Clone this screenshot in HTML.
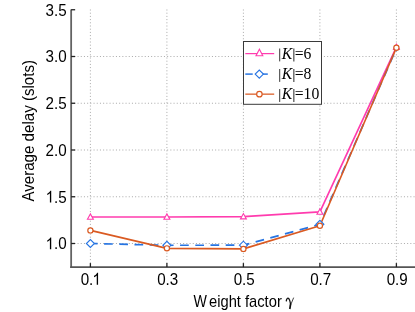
<!DOCTYPE html><html><head><meta charset="utf-8"><style>html,body{margin:0;padding:0;background:#fff}svg{display:block;will-change:transform}text{font-family:"Liberation Sans",sans-serif;fill:#000}.s{font-family:"Liberation Serif",serif}</style></head><body>
<svg width="415" height="312" viewBox="0 0 415 312">
<rect width="415" height="312" fill="#fff"/>
<g stroke="#a0a0a0" stroke-width="0.9" stroke-dasharray="1 2.2" fill="none"><line x1="90.40" y1="9.5" x2="90.40" y2="267.1"/><line x1="166.90" y1="9.5" x2="166.90" y2="267.1"/><line x1="243.40" y1="9.5" x2="243.40" y2="267.1"/><line x1="319.90" y1="9.5" x2="319.90" y2="267.1"/><line x1="396.40" y1="9.5" x2="396.40" y2="267.1"/><line x1="71.15" y1="243.50" x2="415" y2="243.50"/><line x1="71.15" y1="196.75" x2="415" y2="196.75"/><line x1="71.15" y1="150.00" x2="415" y2="150.00"/><line x1="71.15" y1="103.25" x2="415" y2="103.25"/><line x1="71.15" y1="56.50" x2="415" y2="56.50"/></g>
<g stroke="#555" stroke-width="1.8" fill="none">
<line x1="71.15" y1="9.5" x2="71.15" y2="268.0" stroke="#636363"/>
<line x1="70.25" y1="267.1" x2="415" y2="267.1"/>
</g>
<g stroke="#222" stroke-width="1.3" fill="none">
<line x1="90.40" y1="267.1" x2="90.40" y2="263.1"/>
<line x1="166.90" y1="267.1" x2="166.90" y2="263.1"/>
<line x1="243.40" y1="267.1" x2="243.40" y2="263.1"/>
<line x1="319.90" y1="267.1" x2="319.90" y2="263.1"/>
<line x1="396.40" y1="267.1" x2="396.40" y2="263.1"/>
<line x1="71.15" y1="243.50" x2="75.15" y2="243.50"/>
<line x1="71.15" y1="196.75" x2="75.15" y2="196.75"/>
<line x1="71.15" y1="150.00" x2="75.15" y2="150.00"/>
<line x1="71.15" y1="103.25" x2="75.15" y2="103.25"/>
<line x1="71.15" y1="56.50" x2="75.15" y2="56.50"/>
<line x1="71.15" y1="9.75" x2="75.15" y2="9.75"/>
</g>
<text transform="translate(80.64,284.65) scale(1,1.12)" font-size="15.2">0.</text><path transform="translate(92.41,284.65) scale(0.007422,-0.008022)" d="M763 0H583V1147Q518 1085 412.5 1023Q307 961 223 930V1104Q374 1175 487 1276Q600 1377 647 1472H763Z" fill="#000"/>
<text transform="translate(167.70,284.65) scale(1,1.12)" font-size="15.2" text-anchor="middle">0.3</text>
<text transform="translate(244.20,284.65) scale(1,1.12)" font-size="15.2" text-anchor="middle">0.5</text>
<text transform="translate(320.70,284.65) scale(1,1.12)" font-size="15.2" text-anchor="middle">0.7</text>
<text transform="translate(397.20,284.65) scale(1,1.12)" font-size="15.2" text-anchor="middle">0.9</text>
<path transform="translate(45.57,249.30) scale(0.007422,-0.008022)" d="M763 0H583V1147Q518 1085 412.5 1023Q307 961 223 930V1104Q374 1175 487 1276Q600 1377 647 1472H763Z" fill="#000"/><text transform="translate(66.7,249.30) scale(1,1.12)" font-size="15.2" text-anchor="end">.0</text>
<path transform="translate(45.57,202.55) scale(0.007422,-0.008022)" d="M763 0H583V1147Q518 1085 412.5 1023Q307 961 223 930V1104Q374 1175 487 1276Q600 1377 647 1472H763Z" fill="#000"/><text transform="translate(66.7,202.55) scale(1,1.12)" font-size="15.2" text-anchor="end">.5</text>
<text transform="translate(66.7,155.80) scale(1,1.12)" font-size="15.2" text-anchor="end">2.0</text>
<text transform="translate(66.7,109.05) scale(1,1.12)" font-size="15.2" text-anchor="end">2.5</text>
<text transform="translate(66.7,62.30) scale(1,1.12)" font-size="15.2" text-anchor="end">3.0</text>
<text transform="translate(66.7,15.55) scale(1,1.12)" font-size="15.2" text-anchor="end">3.5</text>
<g font-size="15.2"><text transform="translate(193.4,306.6) scale(1,1.06)" textLength="13.4" lengthAdjust="spacingAndGlyphs">W</text><text transform="translate(209.0,306.6) scale(1,1.06)" textLength="72.8" lengthAdjust="spacingAndGlyphs">eight factor</text></g><g fill="none" stroke="#111" stroke-linecap="round"><path d="M286.3 300.8C286.6 298.7 287.6 297.9 288.4 298.3C289.4 299 290.2 302 290.6 304.6" stroke-width="1.3"/><path d="M293.5 298L290.4 305.6" stroke-width="0.8"/><path d="M290.5 304.5L289.8 309" stroke-width="1.7" stroke-linecap="butt"/></g>
<text transform="translate(34.2,130.8) rotate(-90) scale(1,1.03)" font-size="15.2" text-anchor="middle" textLength="141.6" lengthAdjust="spacingAndGlyphs">Average delay (slots)</text>
<polyline points="90.40,216.99 166.90,216.99 243.40,216.57 319.90,211.90 396.40,47.06" fill="none" stroke="#ff3cae" stroke-width="1.65" stroke-linejoin="round"/>
<polyline points="90.40,243.50 166.90,245.28 243.40,245.18 319.90,224.33 396.40,48.27" fill="none" stroke="#2674e2" stroke-width="1.7" stroke-dasharray="8.7 6.5" stroke-dashoffset="1.5" stroke-linejoin="round"/>
<polyline points="90.40,230.41 166.90,248.36 243.40,248.88 319.90,225.74 396.40,47.71" fill="none" stroke="#da5a22" stroke-width="1.65" stroke-linejoin="round"/>
<path d="M86.40 243.50L90.40 247.50L94.40 243.50L90.40 239.50Z" fill="#fff" stroke="#2674e2" stroke-width="1.1"/>
<path d="M162.90 245.28L166.90 249.28L170.90 245.28L166.90 241.28Z" fill="#fff" stroke="#2674e2" stroke-width="1.1"/>
<path d="M239.40 245.18L243.40 249.18L247.40 245.18L243.40 241.18Z" fill="#fff" stroke="#2674e2" stroke-width="1.1"/>
<path d="M315.90 224.33L319.90 228.33L323.90 224.33L319.90 220.33Z" fill="#fff" stroke="#2674e2" stroke-width="1.1"/>
<path d="M394.00 48.27L396.40 50.67L398.80 48.27L396.40 45.87Z" fill="#fff" stroke="#2674e2" stroke-width="1.1"/>
<path d="M87.45 219.29L93.35 219.29L90.40 213.99Z" fill="#fff" stroke="#ff3cae" stroke-width="1.1"/>
<path d="M163.95 219.29L169.85 219.29L166.90 213.99Z" fill="#fff" stroke="#ff3cae" stroke-width="1.1"/>
<path d="M240.45 218.87L246.35 218.87L243.40 213.57Z" fill="#fff" stroke="#ff3cae" stroke-width="1.1"/>
<path d="M316.95 214.20L322.85 214.20L319.90 208.90Z" fill="#fff" stroke="#ff3cae" stroke-width="1.1"/>
<path d="M393.45 49.36L399.35 49.36L396.40 44.06Z" fill="#fff" stroke="#ff3cae" stroke-width="1.1"/>
<circle cx="90.40" cy="230.41" r="2.6" fill="#fff" stroke="#da5a22" stroke-width="1.2"/>
<circle cx="166.90" cy="248.36" r="2.6" fill="#fff" stroke="#da5a22" stroke-width="1.2"/>
<circle cx="243.40" cy="248.88" r="2.6" fill="#fff" stroke="#da5a22" stroke-width="1.2"/>
<circle cx="319.90" cy="225.74" r="2.6" fill="#fff" stroke="#da5a22" stroke-width="1.2"/>
<circle cx="396.40" cy="47.71" r="2.6" fill="#fff" stroke="#da5a22" stroke-width="1.2"/>
<rect x="243.5" y="41.5" width="78" height="62.8" fill="#fff" stroke="#3a3a3a" stroke-width="1"/>
<line x1="245.3" y1="53.6" x2="274.2" y2="53.6" stroke="#ff3cae" stroke-width="1.25"/>
<path d="M256.00 55.80L262.80 55.80L259.40 49.20Z" fill="#fff" stroke="#ff3cae" stroke-width="1.1"/>
<line x1="279.7" y1="48.5" x2="279.7" y2="61.4" stroke="#222" stroke-width="0.9"/><line x1="293.8" y1="48.5" x2="293.8" y2="61.4" stroke="#666" stroke-width="1.4"/><text class="s" x="281.74" y="58.6" font-size="15.7" font-style="italic">K</text><text class="s" x="294.75" y="58.6" font-size="15.7">=6</text>
<line x1="245.3" y1="74.1" x2="252.7" y2="74.1" stroke="#2674e2" stroke-width="1.5"/><line x1="262" y1="74.1" x2="267.8" y2="74.1" stroke="#2674e2" stroke-width="1.5"/>
<path d="M255.20 74.10L259.30 78.20L263.40 74.10L259.30 70.00Z" fill="#fff" stroke="#2674e2" stroke-width="1.1"/>
<line x1="279.7" y1="69.0" x2="279.7" y2="81.89999999999999" stroke="#222" stroke-width="0.9"/><line x1="293.8" y1="69.0" x2="293.8" y2="81.89999999999999" stroke="#666" stroke-width="1.4"/><text class="s" x="281.74" y="79.1" font-size="15.7" font-style="italic">K</text><text class="s" x="294.75" y="79.1" font-size="15.7">=8</text>
<line x1="245.3" y1="94.15" x2="274.2" y2="94.15" stroke="#da5a22" stroke-width="1.25"/>
<circle cx="259.40" cy="94.15" r="2.75" fill="#fff" stroke="#da5a22" stroke-width="1.2"/>
<line x1="279.7" y1="89.05000000000001" x2="279.7" y2="101.95" stroke="#222" stroke-width="0.9"/><line x1="293.8" y1="89.05000000000001" x2="293.8" y2="101.95" stroke="#666" stroke-width="1.4"/><text class="s" x="281.74" y="99.15" font-size="15.7" font-style="italic">K</text><text class="s" x="294.75" y="99.15" font-size="15.7">=10</text>
</svg></body></html>
